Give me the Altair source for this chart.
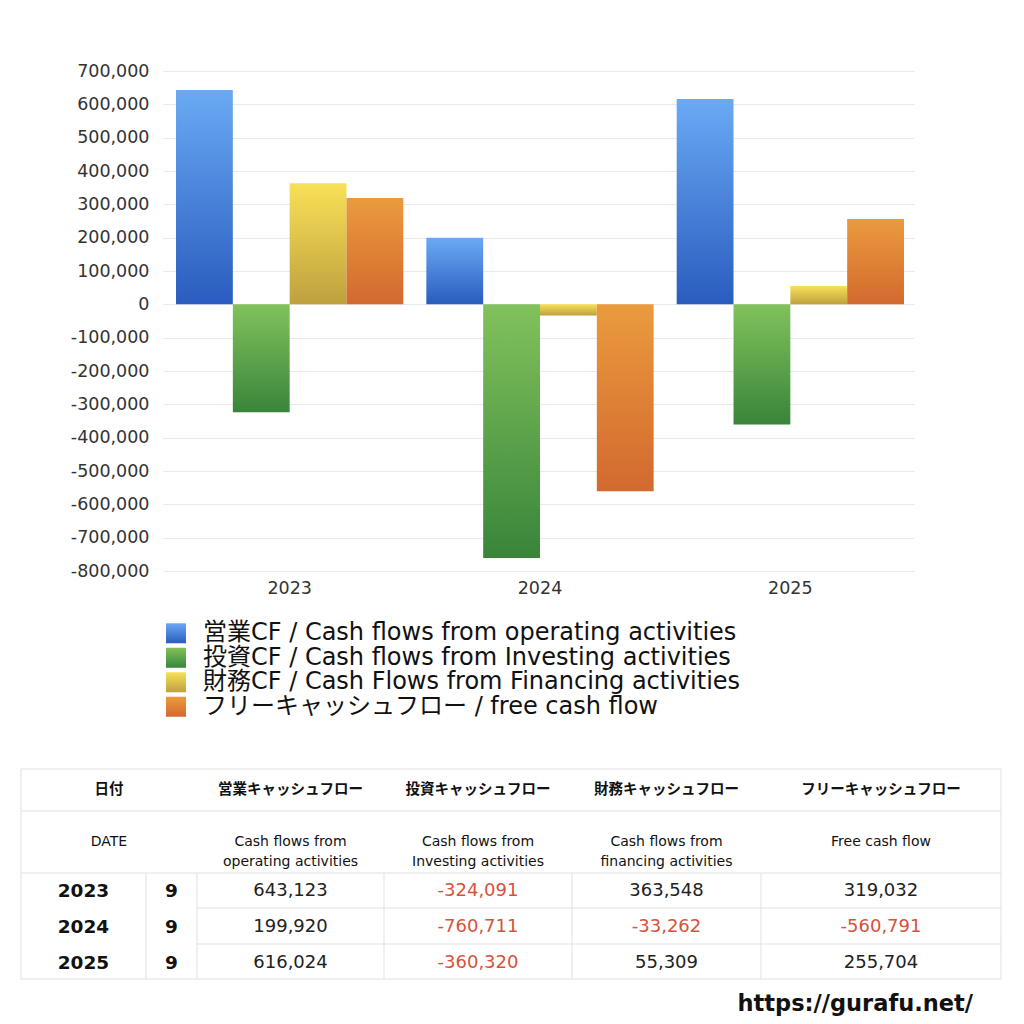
import altair as alt
import pandas as pd

# ---------------- data ----------------
years = ["2023", "2024", "2025"]
series = [
    "営業CF / Cash flows from operating activities",
    "投資CF / Cash flows from Investing activities",
    "財務CF / Cash Flows from Financing activities",
    "フリーキャッシュフロー / free cash flow",
]
operating = [643123, 199920, 616024]
investing = [-324091, -760711, -360320]
financing = [363548, -33262, 55309]
free_cf = [319032, -560791, 255704]
months = ["9", "9", "9"]

y_ticks = list(range(-800000, 700001, 100000))

header_jp = ["日付", "営業キャッシュフロー", "投資キャッシュフロー", "財務キャッシュフロー", "フリーキャッシュフロー"]
header_en = ["DATE", "Cash flows from\noperating activities", "Cash flows from\nInvesting activities",
             "Cash flows from\nfinancing activities", "Free cash flow"]
url_text = "https://gurafu.net/"

# ---------------- styles / layout ----------------
FONT = "DejaVu Sans, Noto Sans CJK JP"
JPFONT = "Noto Sans CJK JP"
grads = [
    ("#6aaaf4", "#2a5cbf"),
    ("#82c25c", "#38853a"),
    ("#f8e158", "#bea03e"),
    ("#ea9b3d", "#d3692f"),
]


def grad(top, bottom):
    return alt.LinearGradient(
        gradient="linear",
        stops=[alt.GradientStop(color=top, offset=0), alt.GradientStop(color=bottom, offset=1)],
        x1=0, x2=0, y1=0, y2=1,
    )


values_by_series = [operating, investing, financing, free_cf]
rows = []
for s, vals in zip(series, values_by_series):
    for yr, v in zip(years, vals):
        rows.append({"year": yr, "series": s, "value": v})
df = pd.DataFrame(rows)

# ---------------- bar chart ----------------
x_enc = alt.X(
    "year:N", title=None,
    scale=alt.Scale(paddingInner=0.092, paddingOuter=0.04),
    axis=alt.Axis(labelAngle=0, labelFontSize=17.5, labelColor="#333", labelFont=FONT,
                  ticks=False, domain=False, labelPadding=8),
)
xoff_enc = alt.XOffset("series:N", scale=alt.Scale(domain=series, paddingInner=0, paddingOuter=0))
y_enc = alt.Y(
    "value:Q", title=None,
    scale=alt.Scale(domain=[-800000, 700000], nice=False),
    axis=alt.Axis(values=y_ticks, labelFontSize=17.5, labelColor="#333", labelFont=FONT,
                  labelExpr="(datum.value < 0 ? '-' : '') + format(abs(datum.value), ',')",
                  domain=False, tickSize=3, tickColor="#e6e6e6", labelPadding=14,
                  gridColor="#e9e9e9", gridWidth=1),
)

bar_layers = []
for s, (top, bottom) in zip(series, grads):
    bar_layers.append(
        alt.Chart(df)
        .transform_filter(alt.datum.series == s)
        .mark_bar(color=grad(top, bottom))
        .encode(x=x_enc, xOffset=xoff_enc, y=y_enc)
    )
bars = alt.layer(*bar_layers).properties(width=748, height=500)

# ---------------- legend ----------------
leg_df = pd.DataFrame({"series": series})
leg_y = alt.Y("series:N", axis=None, scale=alt.Scale(domain=series, paddingInner=0, paddingOuter=0.04))
leg_layers = []
for s, (top, bottom) in zip(series, grads):
    leg_layers.append(
        alt.Chart(leg_df)
        .transform_filter(alt.datum.series == s)
        .mark_square(size=400, color=grad(top, bottom), opacity=1)
        .encode(x=alt.value(10), y=leg_y)
    )
leg_layers.append(
    alt.Chart(leg_df)
    .mark_text(align="left", baseline="middle", fontSize=24, font=FONT, color="#111")
    .encode(x=alt.value(37), y=leg_y, text="series:N")
)
legend = alt.layer(*leg_layers).properties(width=748, height=98)

# ---------------- table ----------------
# table-unit layout
col_lines = [125, 176, 363, 551, 740]
row_edges = [0, 42, 104, 139, 175, 210]
header_x = [88, 269.5, 457, 645.5, 860]
value_x = [269.5, 457, 645.5, 860]
year_x = 62.5
month_x = 150.5
data_row_y = [122, 158, 193.5]

tx = alt.Scale(domain=[0, 980], range=[-145, 835])
ty = alt.Scale(domain=[0, 210], range=[0, 210])

hrules = pd.DataFrame({
    "x1": [0, 0, 0, 176, 176, 0],
    "x2": [980] * 6,
    "y": row_edges,
})
vrules = pd.DataFrame({
    "x": [0, 980] + col_lines,
    "y1": [0, 0] + [104] * len(col_lines),
    "y2": [210] * (2 + len(col_lines)),
})
line_color = "#e1e1e1"

h_layer = alt.Chart(hrules).mark_rule(color=line_color, strokeWidth=1).encode(
    x=alt.X("x1:Q", scale=tx, axis=None), x2="x2:Q", y=alt.Y("y:Q", scale=ty, axis=None))
v_layer = alt.Chart(vrules).mark_rule(color=line_color, strokeWidth=1).encode(
    x=alt.X("x:Q", scale=tx, axis=None), y=alt.Y("y1:Q", scale=ty, axis=None), y2="y2:Q")

hdr1 = pd.DataFrame({"x": header_x, "y": [21] * 5, "t": header_jp})
hdr2 = pd.DataFrame({"x": header_x, "y": [73] * 5, "t": header_en})

hdr1_layer = alt.Chart(hdr1).mark_text(fontSize=14.5, fontWeight="bold", font=JPFONT, color="#111",
                                       baseline="middle").encode(
    x=alt.X("x:Q", scale=tx, axis=None), y=alt.Y("y:Q", scale=ty, axis=None), text="t:N")
hdr2_layer = alt.Chart(hdr2).mark_text(fontSize=14, font=FONT, color="#111",
                                       baseline="middle", lineBreak="\n", lineHeight=20).encode(
    x=alt.X("x:Q", scale=tx, axis=None), y=alt.Y("y:Q", scale=ty, axis=None), text="t:N")

yr_df = pd.DataFrame({"y": data_row_y, "year": years, "m": months})
yr_layer = alt.Chart(yr_df).mark_text(fontSize=18.5, fontWeight="bold", font=FONT, color="#111",
                                      baseline="middle").encode(
    x=alt.X("xx:Q", scale=tx, axis=None), y=alt.Y("y:Q", scale=ty, axis=None), text="year:N"
).transform_calculate(xx=str(year_x))
m_layer = alt.Chart(yr_df).mark_text(fontSize=18.5, fontWeight="bold", font=FONT, color="#111",
                                     baseline="middle").encode(
    x=alt.X("xx:Q", scale=tx, axis=None), y=alt.Y("y:Q", scale=ty, axis=None), text="m:N"
).transform_calculate(xx=str(month_x))

cell_rows = []
for ci, vals in enumerate(values_by_series):
    for ri, v in enumerate(vals):
        cell_rows.append({"x": value_x[ci], "y": data_row_y[ri], "v": v})
cells = pd.DataFrame(cell_rows)
val_layer = alt.Chart(cells).transform_calculate(
    label="(datum.v < 0 ? '-' : '') + format(abs(datum.v), ',')"
).mark_text(fontSize=18, font=FONT, baseline="middle").encode(
    x=alt.X("x:Q", scale=tx, axis=None), y=alt.Y("y:Q", scale=ty, axis=None), text="label:N",
    color=alt.condition("datum.v < 0", alt.value("#d5533c"), alt.value("#222")),
)

url_df = pd.DataFrame({"x": [952], "y": [235], "t": [url_text]})
url_layer = alt.Chart(url_df).mark_text(fontSize=22.5, fontWeight="bold", font=FONT, color="#111",
                                        align="right", baseline="middle").encode(
    x=alt.X("x:Q", scale=tx, axis=None), y=alt.Y("y:Q", scale=ty, axis=None), text="t:N")

table = alt.layer(h_layer, v_layer, hdr1_layer, hdr2_layer, yr_layer, m_layer, val_layer, url_layer
                  ).properties(width=835, height=210)

chart = alt.vconcat(bars, legend, table, spacing=50, bounds="flush").properties(
    padding={"left": 12, "top": 54, "right": 0, "bottom": 0}, background="white"
).configure_view(stroke=None)

chart.save("out.html", embed_options={"renderer": "svg", "actions": False})
